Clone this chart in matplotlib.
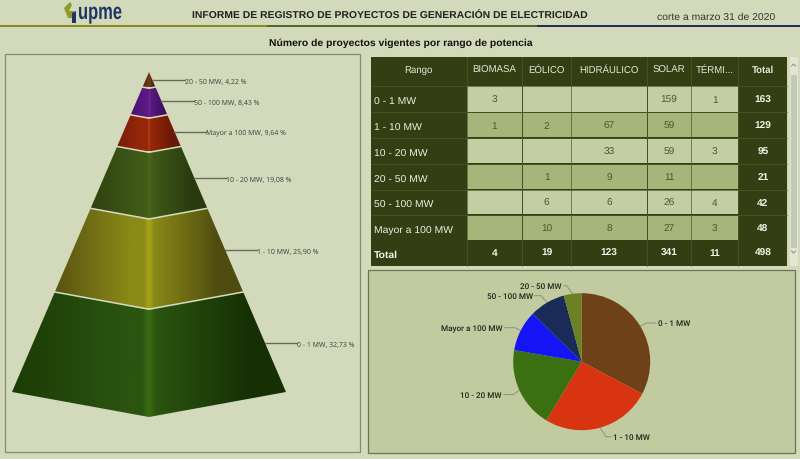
import numpy as np
import matplotlib
matplotlib.use('Agg')
import matplotlib.pyplot as plt
from matplotlib.patches import Rectangle, Polygon
from matplotlib.colors import to_rgb
from matplotlib.patheffects import AbstractPathEffect
from matplotlib.transforms import Affine2D

#small text spaces out better without hinting
plt.rcParams['text.hinting'] = 'no_hinting'
plt.rcParams['text.hinting_factor'] = 8

#pyramid data, top to bottom
pyrLabels = ['20 - 50 MW', '50 - 100 MW', 'Mayor a 100 MW', '10 - 20 MW', '1 - 10 MW', '0 - 1 MW']
pyrPercent = [4.22, 8.43, 9.64, 19.08, 25.90, 32.73]
pyrPercentText = ['4,22', '8,43', '9,64', '19,08', '25,90', '32,73']

#table data
tableColumns = ['Rango', 'BIOMASA', 'EÓLICO', 'HIDRÁULICO', 'SOLAR', 'TÉRMI...', 'Total']
tableRows = ['0 - 1 MW', '1 - 10 MW', '10 - 20 MW', '20 - 50 MW', '50 - 100 MW', 'Mayor a 100 MW']
biomasa = ['3', '1', '', '', '', '']
eolico = ['', '2', '', '1', '6', '10']
hidraulico = ['', '67', '33', '9', '6', '8']
solar = ['159', '59', '59', '11', '26', '27']
termica = ['1', '', '3', '', '4', '3']
rowTotals = ['163', '129', '95', '21', '42', '48']
columnTotals = ['4', '19', '123', '341', '11', '498']

#pie data, clockwise from the top
pieLabels = ['0 - 1 MW', '1 - 10 MW', '10 - 20 MW', 'Mayor a 100 MW', '50 - 100 MW', '20 - 50 MW']
pieValues = [163, 129, 95, 48, 42, 21]

BG = '#d3dabb'
PANEL = '#c1cb9f'
DARK = '#333f13'


#no condensed font installed, so squeeze the logo text sideways
class Squeeze(AbstractPathEffect):
    def __init__(self, x0, sx):
        super().__init__()
        self.x0 = x0
        self.sx = sx

    def draw_path(self, renderer, gc, tpath, affine, rgbFace=None):
        squeeze = Affine2D().translate(-self.x0, 0).scale(self.sx, 1).translate(self.x0, 0)
        renderer.draw_path(gc, tpath, affine + squeeze, rgbFace)


fig = plt.figure(figsize=(8, 4.6), dpi=100, facecolor=BG)
#main axes works in pixels so the dashboard layout is easy to place
ax = fig.add_axes([0, 0, 1, 1])
ax.set_xlim(0, 800)
ax.set_ylim(460, 0)
ax.axis('off')

#header
ax.add_patch(Rectangle((0, 25.8), 267, 2.4, color='#8c8a1c', lw=0))
ax.add_patch(Rectangle((267, 25.8), 270, 2.4, color='#55692a', lw=0))
ax.add_patch(Rectangle((537, 25.8), 263, 2.4, color='#1f2f5c', lw=0))
ax.add_patch(Polygon([(64, 9), (70, 3), (72, 6), (69, 12), (74, 12), (74, 19), (68, 19)], color='#8f9a2a', lw=0))
ax.add_patch(Polygon([(72, 14), (76, 12), (76, 24), (72, 24)], color='#1f3566', lw=0))
ax.text(78, 14, 'upme', color='#1f3566', fontsize=16.5, fontweight='bold', family='Liberation Sans',
        ha='left', va='center', path_effects=[Squeeze(78, 0.72)])
ax.text(390, 15.5, 'INFORME DE REGISTRO DE PROYECTOS DE GENERACIÓN DE ELECTRICIDAD', color='#222222',
        fontsize=7.45, fontweight='bold', family='Liberation Sans', ha='center', va='center')
ax.text(716.5, 17, 'corte a marzo 31 de 2020', color='#333333', fontsize=7.5,
        family='Liberation Sans', ha='center', va='center')
ax.text(400.5, 43.5, 'Número de proyectos vigentes por rango de potencia', color='#111111',
        fontsize=7.45, fontweight='bold', family='Liberation Sans', ha='center', va='center')

#pyramid panel
ax.add_patch(Rectangle((5, 55), 355, 398, fc=BG, ec='#858b70', lw=0.9))

apexX, apexY = 149, 73
halfBase = 137
sideHeight = 320
frontDrop = 25
#colours for each band: outer left, near centre, centre line, outer right
bandColors = [
    ('#4a2410', '#6b3a18', '#7c4a1c', '#3e1f0c'),
    ('#4a1070', '#5d1a85', '#7a2a9c', '#3f0f5c'),
    ('#7a1c08', '#962808', '#b83a10', '#6a1806'),
    ('#2f4210', '#405a18', '#4e6a18', '#2a3a0e'),
    ('#5a5410', '#8a8a18', '#b0aa14', '#4f4c10'),
    ('#1c3c06', '#2a5410', '#3c7012', '#163004'),
]
labelEnds = [185, 194, 206, 226, 257, 297]
labelYs = [80.5, 102, 132.5, 179, 251, 343.5]

xGrid = np.linspace(0, 1, 64)
cum = 0.0
total = sum(pyrPercent)
yTop = apexY
for i, pct in enumerate(pyrPercent):
    cum += pct
    t1 = cum / total
    #bands sit a bit lower than their share because of the gaps between them
    yBot = apexY + t1 * sideHeight + (i + 1) * 0.8 if i < 5 else apexY + sideHeight
    wTop = (yTop - apexY) / sideHeight * halfBase
    wBot = (yBot - apexY) / sideHeight * halfBase
    dTop = (yTop - apexY) / sideHeight * frontDrop
    dBot = (yBot - apexY) / sideHeight * frontDrop
    poly = [(apexX - wTop, yTop), (apexX, yTop + dTop), (apexX + wTop, yTop),
            (apexX + wBot, yBot), (apexX, yBot + dBot), (apexX - wBot, yBot)]
    outerL, nearC, centre, outerR = [np.array(to_rgb(c)) for c in bandColors[i]]
    #horizontal gradient with a bright ridge on the front edge
    cols = []
    for x in xGrid:
        if x < 0.5:
            u = x / 0.5
            c = outerL + (nearC - outerL) * min(u / 0.8, 1)
            if u > 0.95:
                c = nearC + (centre - nearC) * (u - 0.95) / 0.05
        else:
            u = (x - 0.5) / 0.5
            c = centre + (nearC - centre) * min(u / 0.05, 1)
            if u > 0.05:
                c = nearC + (outerR - nearC) * min((u - 0.05) / 0.7, 1)
        cols.append(c)
    grad = np.array(cols)[np.newaxis, :, :]
    yMax = yBot + dBot
    im = ax.imshow(grad, extent=[apexX - wBot, apexX + wBot, yMax, yTop], aspect='auto',
                   interpolation='bilinear', zorder=2)
    clip = Polygon(poly, transform=ax.transData, fc='none', ec='none')
    ax.add_patch(clip)
    im.set_clip_path(clip)
    yTop = yBot + 1.5
    #leader and label
    ly = labelYs[i]
    edgeX = apexX + (ly - apexY) / sideHeight * halfBase
    ax.plot([edgeX, labelEnds[i]], [ly, ly], color='#666a58', lw=1.0, zorder=3)
    ax.text(labelEnds[i], ly + 0.3, f'{pyrLabels[i]}, {pyrPercentText[i]} %', color='#3c3c3c', fontsize=5.0,
            family='Open Sans', ha='left', va='center')
ax.set_xlim(0, 800)
ax.set_ylim(460, 0)

#table
colEdges = [370.7, 466.7, 522.3, 571, 647.3, 691, 738.3, 787.3]
rowEdges = [58.3, 86.7, 113.3, 139, 165, 190.7, 216, 241.7, 267.3]
ax.add_patch(Rectangle((colEdges[0], rowEdges[0]), colEdges[-1] - colEdges[0], rowEdges[-1] - rowEdges[0],
                       fc=DARK, ec='none'))
#thin rules between the dark cells
for x in colEdges[1:-1]:
    ax.plot([x, x], [rowEdges[0], rowEdges[-1]], color='#4c5a2c', lw=0.5)
for y in rowEdges[1:-2]:
    ax.plot([colEdges[0], colEdges[-1]], [y, y], color='#4c5a2c', lw=0.5)

#baseline alignment keeps accented words level with the others
tableFont = dict(family='Liberation Sans', va='baseline')
for j, name in enumerate(tableColumns):
    cx = (colEdges[j] + colEdges[j + 1]) / 2
    weight = 'bold' if name == 'Total' else 'normal'
    ax.text(cx, 73, name, color='#e6e8d8', fontsize=6.9, ha='center', fontweight=weight, **tableFont)

columnsData = [biomasa, eolico, hidraulico, solar, termica]
for r, name in enumerate(tableRows):
    yTop = rowEdges[r + 1]
    yBot = rowEdges[r + 2]
    cy = (yTop + yBot) / 2
    ax.text(colEdges[0] + 3.5, cy + 5, name, color='#eceee0', fontsize=7.5, ha='left', **tableFont)
    fill = '#c3cfa3' if r % 2 == 0 else '#a5b67b'
    for c, values in enumerate(columnsData):
        x0 = colEdges[c + 1]
        x1 = colEdges[c + 2]
        ax.add_patch(Rectangle((x0 + 0.3, yTop + 0.6), x1 - x0 - 0.6, yBot - yTop - 1.2, fc=fill, ec='none'))
        ax.text((x0 + x1) / 2, cy + 2.6, values[r], color='#465a2c', fontsize=7.3, ha='center', **tableFont)
    ax.text((colEdges[6] + colEdges[7]) / 2, cy + 2.6, rowTotals[r], color='#f0f2e4', fontsize=7.3,
            fontweight='bold', ha='center', **tableFont)
#total row
totalY = (rowEdges[7] + rowEdges[8]) / 2
ax.text(colEdges[0] + 3.5, totalY + 3, 'Total', color='#f4f5ea', fontsize=7.5, fontweight='bold', ha='left', **tableFont)
for c, value in enumerate(columnTotals):
    ax.text((colEdges[c + 1] + colEdges[c + 2]) / 2, totalY + 1.8, value, color='#f0f2e4', fontsize=7.3,
            fontweight='bold', ha='center', **tableFont)

#scrollbar
ax.add_patch(Rectangle((789.5, 58), 8, 209, fc='#e3e6d3', ec='none'))
ax.add_patch(Rectangle((790.5, 76), 6, 173, fc='#c4c8b6', ec='none'))
ax.plot([791.5, 793.5, 795.5], [67, 65, 67], color='#8a8a8a', lw=0.7)
ax.plot([791.5, 793.5, 795.5], [252, 254, 252], color='#8a8a8a', lw=0.7)

#pie panel
ax.add_patch(Rectangle((367.5, 271), 427.5, 182.5, fc=PANEL, ec='#6c7455', lw=0.9))

pieColors = ['#6f4118', '#d93412', '#3b7010', '#1414f5', '#1b2b58', '#6c8024']
pieCx, pieCy, pieR = 581.7, 362.7, 68.5
axPie = fig.add_axes([(pieCx - pieR) / 800, 1 - (pieCy + pieR) / 460, 2 * pieR / 800, 2 * pieR / 460])
wedges, _ = axPie.pie(pieValues, colors=pieColors, startangle=90, counterclock=False, radius=1)
axPie.set_xlim(-1, 1)
axPie.set_ylim(-1, 1)
axPie.axis('off')

#label anchors, x is the end of the text nearest the pie
pieTextPos = [(658, 324, 'left'), (613, 437.7, 'left'), (501.7, 395.5, 'right'),
              (502.7, 328.7, 'right'), (532.7, 296.7, 'right'), (561.7, 286.7, 'right')]
for w, name, (tx, ty, ha) in zip(wedges, pieLabels, pieTextPos):
    mid = np.deg2rad((w.theta1 + w.theta2) / 2)
    #the leader leaves the rim along the slice's middle, then runs flat to the text
    sx = pieCx + pieR * np.cos(mid)
    sy = pieCy - pieR * np.sin(mid)
    side = 1 if ha == 'left' else -1
    ax.plot([sx, sx + side * 6, tx - side * 2], [sy, ty, ty], color='#8f9379', lw=0.7, zorder=3)
    ax.text(tx, ty, name, color='#22261a', fontsize=5.9, fontweight='medium', family='Roboto', ha=ha, va='center')

fig.savefig('out.png', dpi=100, facecolor=BG)
